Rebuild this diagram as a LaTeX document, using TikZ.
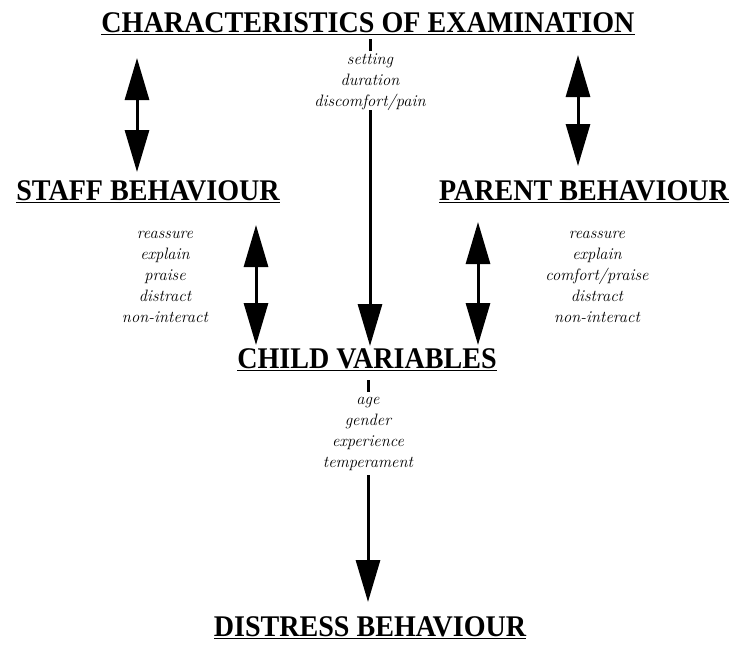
\documentclass[tikz,border=0pt]{standalone}
\usepackage{fontspec}
\newfontfamily\headfont{Liberation Serif}
\usetikzlibrary{arrows.meta}
\begin{document}
\begin{tikzpicture}[x=1pt,y=-1pt,
  head/.style={font=\headfont\bfseries\fontsize{24}{28}\selectfont, inner sep=0pt},
  items/.style={font=\fontsize{16.5}{20.8}\selectfont\itshape, align=center, inner sep=0pt},
  arr/.style={line width=3pt, -{Triangle[width=24pt,length=42pt]}},
  darr/.style={line width=3pt, {Triangle[width=24pt,length=42pt]}-{Triangle[width=24pt,length=42pt]}},
  tick/.style={line width=3pt}]
\useasboundingbox (0,0) rectangle (741,657);
\newcommand{\hd}[1]{\scalebox{1.17}[1.25]{\underline{#1}}}
% headings
\node[head] (exam) at (368,24) {\hd{CHARACTERISTICS OF EXAMINATION}};
\node[head] (staff) at (148,192) {\hd{STAFF BEHAVIOUR}};
\node[head] (parent) at (584,192) {\hd{PARENT BEHAVIOUR}};
\node[head] (child) at (367,360) {\hd{CHILD VARIABLES}};
\node[head] (distress) at (370,628) {\hd{DISTRESS BEHAVIOUR}};
% item lists
\node[items] (examitems) at (370,82) {setting\\duration\\discomfort/pain};
\node[items] (staffitems) at (165,277) {reassure\\explain\\praise\\distract\\non-interact};
\node[items] (parentitems) at (597,277) {reassure\\explain\\comfort/praise\\distract\\non-interact};
\node[items] (childitems) at (368,434) {age\\gender\\experience\\temperament};
% ticks
\coordinate (t1a) at (370,39); \coordinate (t1b) at (370,51);
\draw[tick] (t1a) -- (t1b);
\coordinate (t2a) at (368,380); \coordinate (t2b) at (368,392);
\draw[tick] (t2a) -- (t2b);
% arrow endpoints
\coordinate (ea) at (370,110); \coordinate (eb) at (370,346);
\coordinate (la) at (137,58); \coordinate (lb) at (137,172);
\coordinate (ra) at (578,55); \coordinate (rb) at (578,166);
\coordinate (sa) at (256,225); \coordinate (sb) at (256,345);
\coordinate (pa) at (478,222); \coordinate (pb) at (478,345);
\coordinate (ca) at (368,475); \coordinate (cb) at (368,602);
\draw[arr] (ea) -- (eb);
\draw[darr] (la) -- (lb);
\draw[darr] (ra) -- (rb);
\draw[darr] (sa) -- (sb);
\draw[darr] (pa) -- (pb);
\draw[arr] (ca) -- (cb);
\end{tikzpicture}
\end{document}
